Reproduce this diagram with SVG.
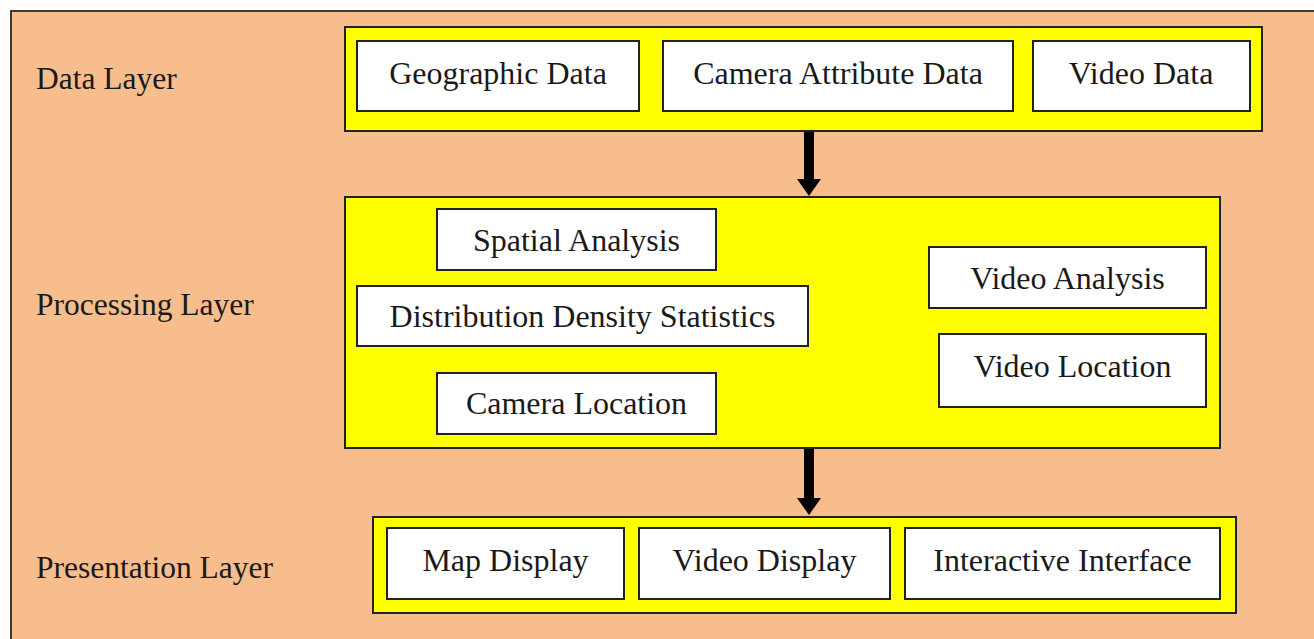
<svg xmlns="http://www.w3.org/2000/svg" width="1314" height="639" viewBox="0 0 1314 639">
  <style>
    .frame { fill: #F8BD8D; stroke: #3a3a3a; stroke-width: 2; }
    .layer { fill: #FFFF00; stroke: #222; stroke-width: 2; }
    .box { fill: #FFFFFF; stroke: #222; stroke-width: 2; }
    .txt { font-family: "Liberation Serif", "Times New Roman", serif; font-size: 32px; fill: #1a1a1a; text-anchor: middle; }
    .lbl { font-family: "Liberation Serif", "Times New Roman", serif; font-size: 31.5px; fill: #1a1a1a; }
    .conn { stroke: #000; stroke-width: 10; fill: none; }
  </style>
  <defs>
    <marker id="head" markerUnits="userSpaceOnUse" markerWidth="18" markerHeight="24" refX="1" refY="12" orient="auto" overflow="visible">
      <path d="M0,0 L17,12 L0,24 Z" fill="#000"/>
    </marker>
  </defs>

  <rect width="1314" height="639" fill="#FFFFFF"/>
  <rect class="frame" x="11" y="11" width="1320" height="640"/>

  <!-- layer captions -->
  <g id="layer-labels">
    <text class="lbl" x="36" y="89">Data Layer</text>
    <text class="lbl" x="36" y="315">Processing Layer</text>
    <text class="lbl" x="36" y="578">Presentation Layer</text>
  </g>

  <!-- data layer -->
  <g id="data-layer">
    <rect class="layer" x="345" y="27" width="917" height="104"/>
  </g>
  <g id="geographic-data">
    <rect class="box" x="357" y="41" width="282" height="70"/>
    <text class="txt" x="498" y="84">Geographic Data</text>
  </g>
  <g id="camera-attribute-data">
    <rect class="box" x="663" y="41" width="350" height="70"/>
    <text class="txt" x="838" y="84">Camera Attribute Data</text>
  </g>
  <g id="video-data">
    <rect class="box" x="1033" y="41" width="217" height="70"/>
    <text class="txt" x="1141" y="84">Video Data</text>
  </g>

  <!-- processing layer -->
  <g id="processing-layer">
    <rect class="layer" x="345" y="197" width="875" height="251"/>
  </g>
  <g id="spatial-analysis">
    <rect class="box" x="437" y="209" width="279" height="61"/>
    <text class="txt" x="576.5" y="251">Spatial Analysis</text>
  </g>
  <g id="distribution-density-statistics">
    <rect class="box" x="357" y="286" width="451" height="60"/>
    <text class="txt" x="582.5" y="327">Distribution Density Statistics</text>
  </g>
  <g id="camera-location">
    <rect class="box" x="437" y="373" width="279" height="61"/>
    <text class="txt" x="576.5" y="414">Camera Location</text>
  </g>
  <g id="video-analysis">
    <rect class="box" x="929" y="247" width="277" height="61"/>
    <text class="txt" x="1067.5" y="289">Video Analysis</text>
  </g>
  <g id="video-location">
    <rect class="box" x="939" y="334" width="267" height="73"/>
    <text class="txt" x="1072.5" y="377">Video Location</text>
  </g>

  <!-- presentation layer -->
  <g id="presentation-layer">
    <rect class="layer" x="373" y="517" width="863" height="96"/>
  </g>
  <g id="map-display">
    <rect class="box" x="387" y="528" width="237" height="71"/>
    <text class="txt" x="505.5" y="571">Map Display</text>
  </g>
  <g id="video-display">
    <rect class="box" x="639" y="528" width="251" height="71"/>
    <text class="txt" x="764.5" y="571">Video Display</text>
  </g>
  <g id="interactive-interface">
    <rect class="box" x="905" y="528" width="315" height="71"/>
    <text class="txt" x="1062.5" y="571">Interactive Interface</text>
  </g>

  <!-- flow between layers -->
  <g id="connectors">
    <line class="conn" x1="809" y1="132" x2="809" y2="180" marker-end="url(#head)"/>
    <line class="conn" x1="809" y1="449" x2="809" y2="499" marker-end="url(#head)"/>
  </g>
</svg>
